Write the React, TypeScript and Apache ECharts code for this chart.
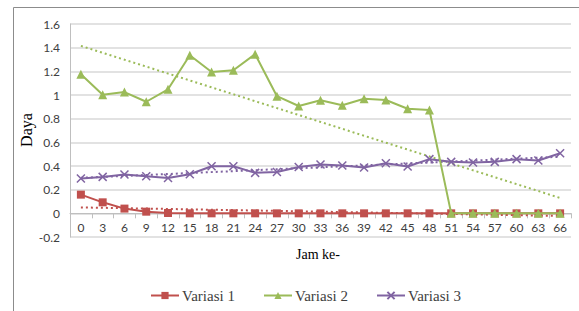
import React, { useEffect, useRef } from "react";
import * as echarts from "echarts";

const categories = ["0","3","6","9","12","15","18","21","24","27","30","33","36","39","42","45","48","51","54","57","60","63","66"];
const variasi1 = [0.158,0.093,0.04,0.014,0.003,0,0,0,0,0,0,0,0,0,0,0,0,0,0,0,0,0,0];
const variasi2 = [1.175,1.003,1.025,0.943,1.048,1.336,1.195,1.209,1.345,0.99,0.907,0.955,0.913,0.969,0.958,0.884,0.873,0,0,0,0,0,0];
const variasi3 = [0.294,0.308,0.328,0.314,0.299,0.33,0.398,0.398,0.342,0.35,0.392,0.412,0.404,0.387,0.424,0.396,0.458,0.435,0.43,0.435,0.458,0.447,0.508];
// trend line endpoints (first and last category)
const trend1 = [0.05, -0.022];
const trend2 = [1.415, 0.13];
const trend3 = [0.3, 0.478];
const yTicks = { min: -0.2, max: 1.6, interval: 0.2 };
const seriesNames = ["Variasi 1", "Variasi 2", "Variasi 3"];

const RED = "#C0504D";
const GREEN = "#9BBB59";
const PURPLE = "#8064A2";
const SERIF = "Liberation Serif, Times New Roman, serif";

const GRID_TOP = 24;
const GRID_BOTTOM = 74;
const H = 311;

const trendData = (t: number[]) =>
  categories.map((_, i) => (i === 0 ? t[0] : i === categories.length - 1 ? t[1] : null));

export default function App() {
  const ref = useRef<HTMLDivElement>(null);
  useEffect(() => {
    const chart = echarts.init(ref.current!, null, { renderer: "svg" });
    const plotH = H - GRID_TOP - GRID_BOTTOM;
    const zeroOffset = (plotH * (0 - yTicks.min)) / (yTicks.max - yTicks.min);
    const trendSeries = (name: string, t: number[], color: string) => ({
      name,
      type: "line",
      data: trendData(t),
      connectNulls: true,
      symbol: "none",
      lineStyle: { color, width: 2, type: [2, 3] },
      z: 1,
      silent: true,
    });
    const legendAt = (name: string, left: number) => ({
      data: [name],
      left,
      top: 283,
      itemWidth: 28,
      itemHeight: 9,
      textStyle: { fontFamily: SERIF, fontSize: 15, color: "#404040", padding: [0, 0, 0, -2] },
    });
    chart.setOption({
      animation: false,
      graphic: [
        {
          type: "rect",
          shape: { x: 13.5, y: 7.5, width: 700, height: 400 },
          style: { fill: "none", stroke: "#8c8c8c", lineWidth: 1 },
          silent: true,
        },
        {
          type: "text",
          x: 318,
          y: 254,
          style: {
            text: "Jam ke-",
            fontFamily: SERIF,
            fontSize: 14,
            fontWeight: "normal",
            fill: "#000",
            align: "center",
            verticalAlign: "middle",
          },
        },
        {
          type: "text",
          x: 26,
          y: 130,
          rotation: Math.PI / 2,
          style: {
            text: "Daya",
            fontFamily: SERIF,
            fontSize: 16,
            fontWeight: "normal",
            fill: "#000",
            align: "center",
            verticalAlign: "middle",
          },
        },
      ],
      grid: { left: 70, right: 8, top: GRID_TOP, bottom: GRID_BOTTOM },
      legend: [legendAt(seriesNames[0], 145), legendAt(seriesNames[1], 258), legendAt(seriesNames[2], 371)],
      xAxis: {
        type: "category",
        data: categories,
        position: "bottom",
        offset: -zeroOffset,
        axisLine: { onZero: false, lineStyle: { color: "#BFBFBF", width: 1 } },
        axisTick: { show: true, length: 5, lineStyle: { color: "#BFBFBF" } },
        axisLabel: { fontFamily: "Lato", fontSize: 12, color: "#404040", margin: 8, interval: 0 },
        splitLine: { show: false },
      },
      yAxis: {
        type: "value",
        min: yTicks.min,
        max: yTicks.max,
        interval: yTicks.interval,
        axisLine: { show: true, lineStyle: { color: "#BFBFBF", width: 1 } },
        axisTick: { show: false },
        axisLabel: { fontFamily: "Lato", fontSize: 12, color: "#404040", margin: 10 },
        splitLine: { lineStyle: { color: "#D9D9D9", width: 1.5 } },
      },
      series: [
        trendSeries("Trend 1", trend1, RED),
        trendSeries("Trend 2", trend2, GREEN),
        trendSeries("Trend 3", trend3, PURPLE),
        {
          name: seriesNames[0],
          type: "line",
          data: variasi1,
          symbol: "rect",
          symbolSize: 8,
          color: RED,
          lineStyle: { color: RED, width: 2 },
          itemStyle: { color: RED },
          z: 3,
        },
        {
          name: seriesNames[1],
          type: "line",
          data: variasi2,
          symbol: "triangle",
          symbolSize: 9,
          color: GREEN,
          lineStyle: { color: GREEN, width: 2 },
          itemStyle: { color: GREEN },
          z: 4,
        },
        {
          name: seriesNames[2],
          type: "line",
          data: variasi3,
          symbol: "path://M0,0L10,10M10,0L0,10",
          symbolSize: 8,
          color: PURPLE,
          lineStyle: { color: PURPLE, width: 2 },
          itemStyle: { color: PURPLE, borderColor: PURPLE, borderWidth: 1.5 },
          z: 3,
        },
      ],
    });
    return () => chart.dispose();
  }, []);
  return <div ref={ref} style={{ width: 579, height: 311, position: "absolute", left: 0, top: 0 }} />;
}
